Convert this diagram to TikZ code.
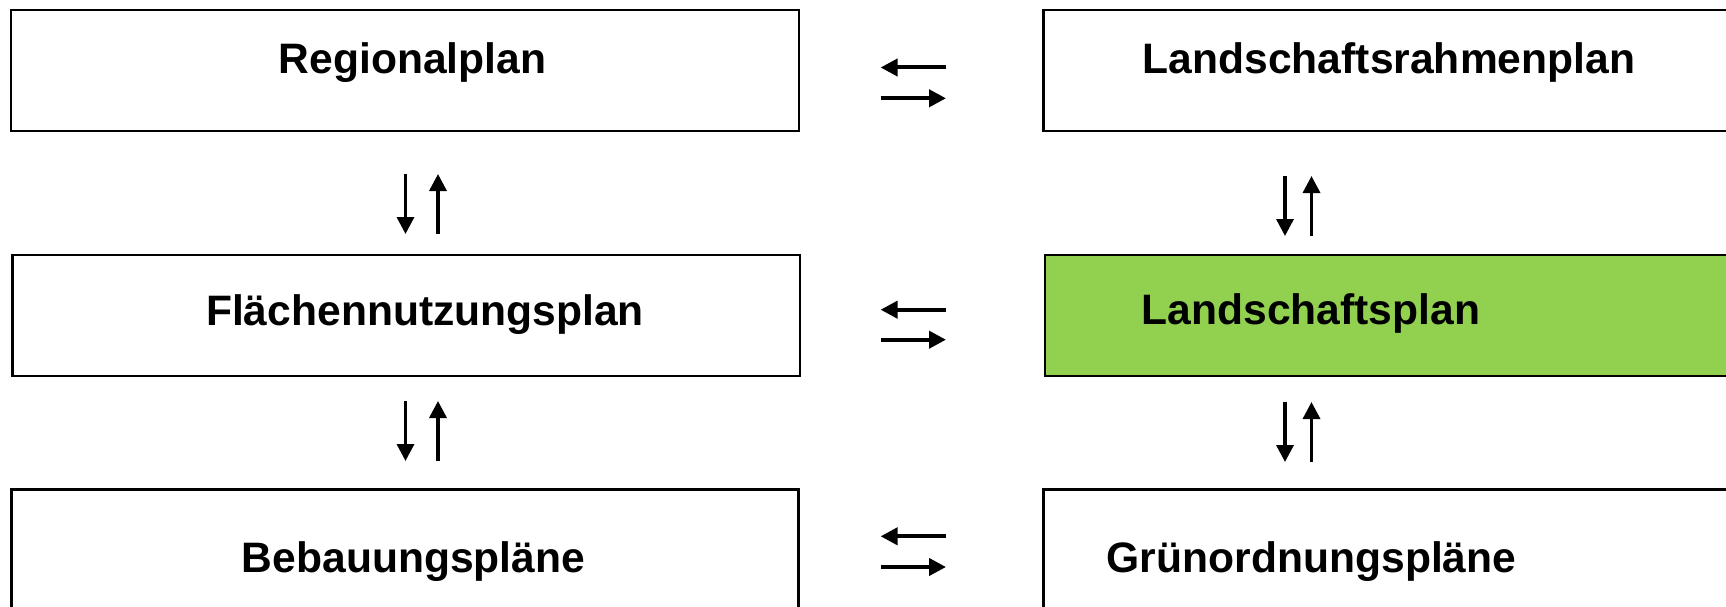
\documentclass[tikz,border=0pt]{standalone}
\usepackage{fontspec}
\setmainfont{Liberation Sans}
\usetikzlibrary{arrows.meta}
\definecolor{lpgreen}{HTML}{92D050}
\tikzset{
  box/.style={draw=black, line width=2.8pt, rectangle, inner sep=0pt},
  lbl/.style={anchor=base, inner sep=0pt, font=\fontsize{42.6}{50}\selectfont\bfseries},
  vflow/.style={line width=3.4pt, -{Triangle[length=17pt,width=17pt]}},
  hflow/.style={line width=4pt, -{Triangle[length=17pt,width=17pt]}}
}
\begin{document}
\begin{tikzpicture}[x=1pt,y=-1pt]
\clip (0,0) rectangle (1726,607);
\fill[white] (0,0) rectangle (1726,607);
% boxes
\node[box, minimum width=788pt, minimum height=121pt] (reg) at (405,70.5) {};
\node[box, minimum width=787.3pt, minimum height=121pt] (fnp) at (406.35,315.5) {};
\node[box, minimum width=787pt, minimum height=121pt] (bp) at (405.1,550.2) {};
\node[box, minimum width=700pt, minimum height=121pt] (lrp) at (1393.5,70.5) {};
\node[box, fill=lpgreen, minimum width=700pt, minimum height=121pt] (lp) at (1395,315.5) {};
\node[box, minimum width=700pt, minimum height=121pt] (gop) at (1393.5,550.2) {};
% labels
\node[lbl] (treg) at (412.5,74) {Regionalplan};
\node[lbl] (tfnp) at (425,325) {Flächennutzungsplan};
\node[lbl] (tbp) at (413.6,572.5) {Bebauungspläne};
\node[lbl] (tlrp) at (1389,74) {Landschaftsrahmenplan};
\node[lbl] (tlp) at (1311,324.7) {Landschaftsplan};
\node[lbl] (tgop) at (1311.5,572.5) {Grünordnungspläne};
% coordinates for arrows
\coordinate (a1s) at (405.5,174); \coordinate (a1e) at (405.5,234);
\coordinate (a2s) at (438,234);   \coordinate (a2e) at (438,174);
\coordinate (a3s) at (405.5,401); \coordinate (a3e) at (405.5,461);
\coordinate (a4s) at (438,461);   \coordinate (a4e) at (438,401);
\coordinate (b1s) at (1285,176);  \coordinate (b1e) at (1285,236);
\coordinate (b2s) at (1311.5,236);\coordinate (b2e) at (1311.5,176);
\coordinate (b3s) at (1285,402);  \coordinate (b3e) at (1285,462);
\coordinate (b4s) at (1311.5,462);\coordinate (b4e) at (1311.5,402);
\coordinate (h1s) at (946,67.5);  \coordinate (h1e) at (880.6,67.5);
\coordinate (h2s) at (880.6,98.3);\coordinate (h2e) at (946,98.3);
\coordinate (h3s) at (946,309.7); \coordinate (h3e) at (880.6,309.7);
\coordinate (h4s) at (880.6,339.7);\coordinate (h4e) at (946,339.7);
\coordinate (h5s) at (946,536.3); \coordinate (h5e) at (880.6,536.3);
\coordinate (h6s) at (880.6,567); \coordinate (h6e) at (946,567);
% vertical arrows
\draw[vflow] (a1s) -- (a1e);
\draw[vflow] (a2s) -- (a2e);
\draw[vflow] (a3s) -- (a3e);
\draw[vflow] (a4s) -- (a4e);
\draw[vflow] (b1s) -- (b1e);
\draw[vflow] (b2s) -- (b2e);
\draw[vflow] (b3s) -- (b3e);
\draw[vflow] (b4s) -- (b4e);
% horizontal arrows
\draw[hflow] (h1s) -- (h1e);
\draw[hflow] (h2s) -- (h2e);
\draw[hflow] (h3s) -- (h3e);
\draw[hflow] (h4s) -- (h4e);
\draw[hflow] (h5s) -- (h5e);
\draw[hflow] (h6s) -- (h6e);
\end{tikzpicture}
\end{document}
